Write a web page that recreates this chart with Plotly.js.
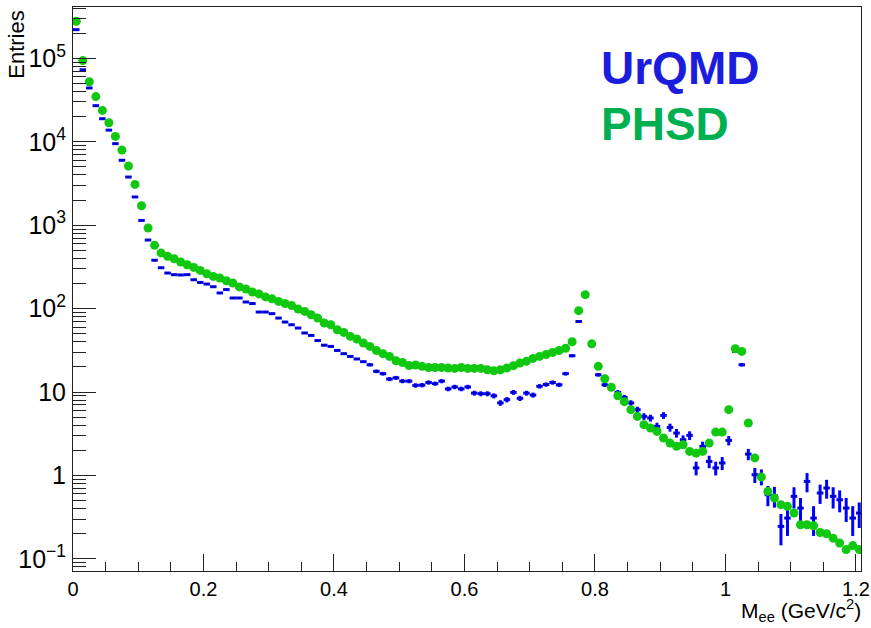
<!DOCTYPE html>
<html>
<head>
<meta charset="utf-8">
<script src="https://cdn.plot.ly/plotly-3.0.1.min.js"></script>
<style>html,body{margin:0;padding:0;background:#fff;}#chart{width:871px;height:628px;}</style>
</head>
<body>
<div id="chart"></div>
<script>
// Histogram binning (GeV/c^2)
const binLow = 0.0;
const binWidth = 0.01;
const nBins = 121;

// UrQMD entries per bin
const urqmd = [
  221000, 73000, 44200, 27100, 18900, 13800, 9500, 6000, 3780, 2180,
  1140, 664, 380, 309, 267, 255, 253, 255, 222, 206,
  197, 183, 154, 169, 134, 134, 120, 115, 91, 91,
  87, 77, 69, 64, 58.5, 51, 47.7, 41.4, 36.4, 35.2,
  31.5, 28.8, 26.7, 24.9, 23.1, 21.2, 17.7, 16.6, 14.3, 14.8,
  13.5, 13.5, 12.0, 12.1, 13.0, 12.6, 13.5, 10.9, 11.5, 10.9,
  11.5, 9.7, 9.55, 9.55, 9.0, 7.4, 8.1, 9.9, 8.4, 9.7,
  9.2, 11.7, 12.3, 13.0, 12.2, 16.6, 27.2, 70, 140, 36,
  16.1, 12.2, 11, 9.9, 8.6, 7.4, 6.14, 5.1, 4.88, 3.87,
  5.24, 3.76, 3.22, 2.68, 3.02, 1.23, 2.23, 1.47, 1.23, 1.41,
  2.63, 30.7, 21.2, 1.80, 1.02, 0.97, 0.587, 0.571, 0.245, 0.308,
  0.561, 0.406, 0.847, 0.308, 0.615, 0.706, 0.561, 0.511, 0.406, 0.308,
  0.354
];

// UrQMD statistical errors per bin (0 where hidden by the marker)
const urqmdErr = [
  0, 0, 0, 0, 0, 0, 0, 0, 0, 0,
  0, 0, 0, 0, 0, 0, 0, 0, 0, 0,
  0, 0, 0, 0, 0, 0, 0, 0, 0, 0,
  0, 0, 0, 0, 0, 0, 0, 0, 0, 0,
  0, 0, 0, 0, 0, 0.97, 0.88, 0.85, 0.79, 0.81,
  0.77, 0.77, 0.73, 0.73, 0.76, 0.74, 0.77, 0.69, 0.71, 0.69,
  0.71, 0.65, 0.65, 0.65, 0.63, 0.57, 0.60, 0.66, 0.61, 0.65,
  0.64, 0.72, 0.74, 0.76, 0.73, 0.85, 1.09, 1.75, 2.48, 1.26,
  0.84, 0.73, 0.70, 0.66, 0.62, 0.57, 0.52, 0.47, 0.46, 0.41,
  0.48, 0.41, 0.38, 0.34, 0.36, 0.23, 0.31, 0.25, 0.23, 0.25,
  0.34, 1.16, 0.97, 0.28, 0.21, 0.21, 0.16, 0.16, 0.10, 0.12,
  0.16, 0.13, 0.22, 0.12, 0.16, 0.18, 0.16, 0.15, 0.13, 0.12,
  0.12
];

// PHSD entries per bin
const phsd = [
  278000, 94000, 52500, 34800, 23800, 16900, 11600, 7950, 5130, 3080,
  1710, 925, 573, 465, 423, 396, 362, 336, 312, 287,
  262, 243, 233, 216, 203, 182, 172, 158, 150, 138,
  131, 122, 115, 109, 99, 92.5, 84.5, 77, 67.2, 64.1,
  55.8, 51.8, 46.4, 43.2, 38.7, 35.2, 31.5, 28.8, 26.7, 23.7,
  22.6, 20.8, 21.1, 20.3, 19.7, 19.7, 19.7, 19.4, 19.2, 19.7,
  19.2, 19.2, 19.2, 18.5, 18.0, 18.5, 19.4, 20.7, 22.3, 23.3,
  25.3, 26.7, 28.2, 29.8, 31.5, 33.5, 40, 94.5, 147, 37.8,
  20.3, 14.4, 11.4, 9.03, 7.66, 6.14, 5.1, 4.06, 3.70, 3.37,
  2.81, 2.44, 2.23, 2.33, 1.94, 1.85, 1.94, 2.44, 3.31, 3.31,
  6.14, 33.0, 30.7, 4.25, 1.62, 0.957, 0.643, 0.535, 0.446, 0.426,
  0.354, 0.256, 0.256, 0.249, 0.207, 0.200, 0.177, 0.155, 0.129, 0.144,
  0.129
];

const labelUrQMD = 'UrQMD';
const labelPHSD = 'PHSD';
const xTitle = 'M<sub>ee</sub> (GeV/c<sup>2</sup>)';
const yTitle = 'Entries';

const centers = [];
for (let i = 0; i < nBins; i++) centers.push(binLow + binWidth * (i + 0.5));

const FONT = '"Liberation Sans", Arial, Helvetica, sans-serif';

const traces = [
  {
    type: 'scatter', mode: 'markers', x: centers, y: urqmd, name: labelUrQMD,
    marker: {size: 2, color: '#000070'},
    error_x: {type: 'constant', value: binWidth / 2, thickness: 3, width: 0, color: '#0000ff'},
    error_y: {type: 'data', array: urqmdErr, visible: true, thickness: 3, width: 0, color: '#0000ff'},
    showlegend: false, hoverinfo: 'x+y'
  },
  {
    type: 'scatter', mode: 'markers', x: centers, y: phsd, name: labelPHSD,
    marker: {size: 9, color: '#10c810', line: {width: 0}},
    showlegend: false, hoverinfo: 'x+y'
  }
];

const layout = {
  width: 871, height: 628,
  margin: {l: 73, r: 10, t: 7, b: 57, pad: 0},
  paper_bgcolor: '#ffffff', plot_bgcolor: '#ffffff',
  font: {family: FONT, size: 20, color: '#000'},
  showlegend: false,
  xaxis: {
    range: [0, 1.2077], showgrid: false, zeroline: false,
    showline: true, mirror: true, linecolor: '#222', linewidth: 1,
    ticks: 'inside', ticklen: 17, tickwidth: 1, tickcolor: '#222',
    tick0: 0, dtick: 0.2, ticklabelstandoff: 0,
    minor: {ticks: 'inside', ticklen: 9, tickwidth: 1, tickcolor: '#222', dtick: 0.05, showgrid: false},
    tickfont: {family: FONT, size: 20, color: '#000'}
  },
  yaxis: {
    type: 'log', range: [-1.146, 5.616], showgrid: false, zeroline: false,
    showline: true, mirror: true, linecolor: '#222', linewidth: 1,
    ticks: 'inside', ticklen: 23, tickwidth: 1, tickcolor: '#222',
    dtick: 1, exponentformat: 'power', ticklabelstandoff: 2,
    minor: {ticks: 'inside', ticklen: 13, tickwidth: 1, tickcolor: '#222', dtick: 'D1', showgrid: false},
    tickfont: {family: FONT, size: 20, color: '#000'}
  },
  annotations: [
    {text: yTitle, xref: 'paper', yref: 'paper', x: -0.071, y: 0.997, xanchor: 'center', yanchor: 'top',
     textangle: -90, showarrow: false, font: {family: FONT, size: 22, color: '#000'}},
    {text: xTitle, xref: 'paper', yref: 'paper', x: 1.003, y: -0.0985, xanchor: 'right', yanchor: 'bottom',
     showarrow: false, font: {family: FONT, size: 21, color: '#000'}},
    {text: '<b>' + labelUrQMD + '</b>', xref: 'paper', yref: 'paper', x: 0.668, y: 0.891, xanchor: 'left', yanchor: 'middle',
     showarrow: false, font: {family: FONT, size: 46, color: '#1c1cdc'}},
    {text: '<b>' + labelPHSD + '</b>', xref: 'paper', yref: 'paper', x: 0.668, y: 0.792, xanchor: 'left', yanchor: 'middle',
     showarrow: false, font: {family: FONT, size: 46, color: '#00b050'}}
  ]
};

Plotly.newPlot('chart', traces, layout, {staticPlot: true, displayModeBar: false});
</script>
</body>
</html>
